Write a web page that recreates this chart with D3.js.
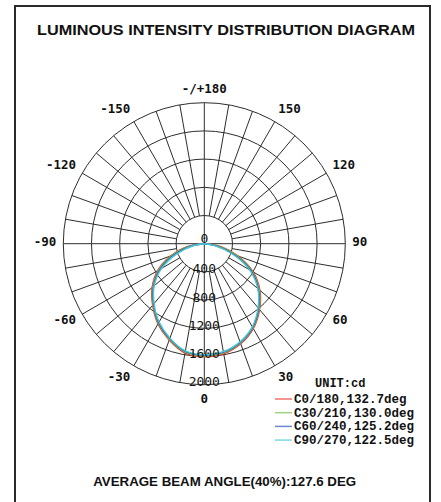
<!DOCTYPE html>
<html>
<head>
<meta charset="utf-8">
<script src="https://cdn.jsdelivr.net/npm/d3@7"></script>
<style>
  html, body { margin: 0; padding: 0; background: #fff; }
  svg { display: block; }
</style>
</head>
<body>
<div id="chart"></div>
<script>
// ---- data ----
const titleText = "LUMINOUS INTENSITY DISTRIBUTION DIAGRAM";
const footerText = "AVERAGE BEAM ANGLE(40%):127.6 DEG";
const unitText = "UNIT:cd";
const gammas = [-90,-80,-70,-60,-50,-40,-30,-20,-10,0,10,20,30,40,50,60,70,80,90];
const seriesNames = ["C0/180,132.7deg","C30/210,130.0deg","C60/240,125.2deg","C90/270,122.5deg"];
const c0   = [0,250,510,765,965,1140,1315,1455,1575,1605,1585,1510,1390,1220,1030,800,510,240,0];
const c30  = [0,225,485,745,950,1128,1303,1443,1562,1592,1572,1500,1380,1208,1015,780,485,215,0];
const c60  = [0,185,445,722,938,1118,1292,1433,1552,1582,1562,1490,1370,1196,1000,760,448,172,0];
const c90  = [0,150,410,700,928,1108,1283,1425,1545,1575,1555,1482,1362,1186,990,742,418,140,0];
const seriesColors = ["#e8382e","#7cc04a","#2f58c0","#48c8d6"];
const ringValues = [400,800,1200,1600,2000];
const ringLabels = ["400","800","1200","1600","2000"];
const angleTicks = [180,-150,150,-120,120,-90,90,-60,60,-30,30,0];
const angleTickLabels = ["-/+180","-150","150","-120","120","-90","90","-60","60","-30","30","0"];

// ---- layout ----
const W = 441, H = 502;
const cx = 204.3, cy = 243.7, R = 141;
const svg = d3.select("#chart").append("svg").attr("width", W).attr("height", H);

svg.append("rect").attr("x", 15).attr("y", 6).attr("width", 415).attr("height", 500)
  .attr("fill", "#fff").attr("stroke", "#2a2a2a").attr("stroke-width", 2);

svg.append("text").attr("x", 226).attr("y", 35).attr("text-anchor", "middle")
  .attr("font-family", "'Liberation Sans', Arial, sans-serif").attr("font-weight", "bold")
  .attr("font-size", 15).attr("textLength", 378).attr("lengthAdjust", "spacingAndGlyphs")
  .attr("fill", "#111").text(titleText);

svg.append("text").attr("x", 224.7).attr("y", 486).attr("text-anchor", "middle")
  .attr("font-family", "'Liberation Sans', Arial, sans-serif").attr("font-weight", "bold")
  .attr("font-size", 13).attr("textLength", 263).attr("lengthAdjust", "spacingAndGlyphs")
  .attr("fill", "#111").text(footerText);

const r = d3.scaleLinear().domain([0, 2000]).range([0, R]);
const toRad = d => d * Math.PI / 180;
// angle convention: 0 = down, +90 = right
const px = (a, rad) => cx + rad * Math.sin(toRad(a));
const py = (a, rad) => cy + rad * Math.cos(toRad(a));

const g = svg.append("g");
const gridColor = "#2d2d2d";

// rings
g.selectAll("circle.ring").data(ringValues).join("circle")
  .attr("cx", cx).attr("cy", cy).attr("r", d => r(d))
  .attr("fill", "none").attr("stroke", gridColor).attr("stroke-width", 1);

// spokes every 10 degrees
const spokes = d3.range(0, 360, 10);
g.selectAll("line.spoke").data(spokes).join("line")
  .attr("x1", d => px(d, d % 90 === 0 ? 0 : r(400)))
  .attr("y1", d => py(d, d % 90 === 0 ? 0 : r(400)))
  .attr("x2", d => px(d, r(2000)))
  .attr("y2", d => py(d, r(2000)))
  .attr("stroke", gridColor).attr("stroke-width", 1);

// curves
const allSeries = [c0, c30, c60, c90];
const line = d3.lineRadial()
  .angle(d => Math.PI - toRad(d[0]))
  .radius(d => r(d[1]))
  .curve(d3.curveCatmullRom.alpha(0.5));
const cg = svg.append("g").attr("transform", `translate(${cx},${cy})`);
allSeries.forEach((vals, i) => {
  cg.append("path")
    .datum(gammas.map((a, k) => [a, vals[k]]))
    .attr("d", line)
    .attr("fill", "none")
    .attr("stroke", seriesColors[i])
    .attr("stroke-width", 1.4);
});

// ring labels
const monoFont = "'DejaVu Sans Mono', monospace";
svg.append("text").attr("x", cx).attr("y", cy - 1).attr("text-anchor", "middle")
  .attr("font-family", monoFont).attr("font-size", 13).attr("fill", "#111").text("0");
svg.selectAll("text.ringlab").data(ringValues).join("text")
  .attr("x", cx).attr("y", d => cy + r(d) + 1.5).attr("text-anchor", "middle")
  .attr("font-family", monoFont).attr("font-size", 13).attr("fill", "#111")
  .text((d, i) => ringLabels[i]);

// angle labels
svg.selectAll("text.anglab").data(angleTicks).join("text")
  .attr("x", d => (d === 0 || d === 180) ? cx : px(d, 148))
  .attr("y", d => cy + 155 * Math.cos(toRad(d)) - 2 * Math.abs(Math.sin(toRad(d))))
  .attr("dy", "0.36em")
  .attr("text-anchor", d => (d === 0 || d === 180) ? "middle" : (d < 0 ? "end" : "start"))
  .attr("font-family", monoFont).attr("font-weight", "bold").attr("font-size", 12.5)
  .attr("fill", "#111")
  .text((d, i) => angleTickLabels[i]);

// legend
const legFont = "'Liberation Mono', 'Courier New', monospace";
svg.append("text").attr("x", 315).attr("y", 387)
  .attr("font-family", legFont).attr("font-weight", "bold").attr("font-size", 12)
  .attr("fill", "#111").text(unitText);
const lg = svg.selectAll("g.leg").data(seriesNames).join("g")
  .attr("transform", (d, i) => `translate(0,${399 + i * 13.7})`);
lg.append("line").attr("x1", 275).attr("x2", 292).attr("y1", 0).attr("y2", 0)
  .attr("stroke", (d, i) => seriesColors[i]).attr("stroke-width", 1.5).attr("opacity", 0.7);
lg.append("text").attr("x", 294).attr("y", 4)
  .attr("font-family", legFont).attr("font-weight", "bold").attr("font-size", 12.5)
  .attr("fill", "#111").text(d => d);
</script>
</body>
</html>
